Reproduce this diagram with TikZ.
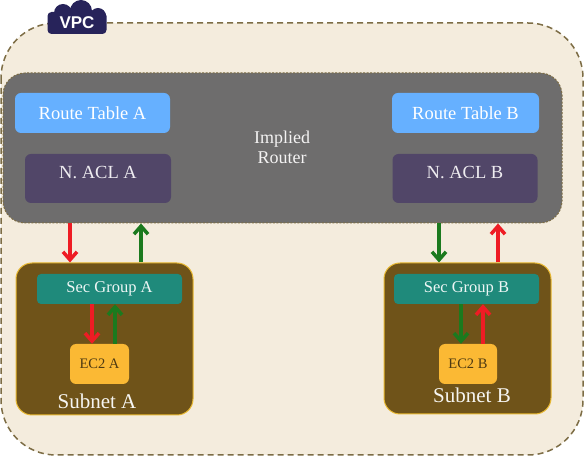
\documentclass[tikz,border=0pt]{standalone}
\usepackage{fontspec}
\setmainfont{Liberation Serif}
\setsansfont{Liberation Sans}
\usetikzlibrary{arrows.meta}
\definecolor{vpcfill}{HTML}{F4ECDD}
\definecolor{vpcline}{HTML}{7D6D45}
\definecolor{tagnavy}{HTML}{27235A}
\definecolor{routergray}{HTML}{6E6D6D}
\definecolor{rtblue}{HTML}{66B0FF}
\definecolor{aclpurple}{HTML}{514668}
\definecolor{subbrown}{HTML}{6F5319}
\definecolor{subline}{HTML}{E8B830}
\definecolor{secteal}{HTML}{1F8A7B}
\definecolor{ecorange}{HTML}{FBB934}
\definecolor{flowred}{HTML}{EE1C24}
\definecolor{flowgreen}{HTML}{1B7A1E}
\begin{document}
\begin{tikzpicture}[x=1pt, y=-1pt,
    box/.style={rounded corners=6pt, inner sep=0pt, align=center},
    routebox/.style={box, fill=rtblue, text=white, minimum width=155pt, minimum height=40pt, font=\fontsize{18.5}{20}\selectfont},
    aclbox/.style={box, fill=aclpurple, text=white!90!aclpurple, minimum width=146pt, minimum height=49pt,
      text height=12pt, text depth=11.4pt, font=\fontsize{18.5}{20}\selectfont},
    subnetbox/.style={rounded corners=16pt, fill=subbrown, draw=subline, line width=1pt, inner sep=0pt},
    secbox/.style={box, rounded corners=4pt, fill=secteal, text=white!92!secteal, minimum width=145pt, minimum height=30pt, font=\fontsize{16.5}{18}\selectfont},
    ecbox/.style={box, fill=ecorange, text=subbrown!70!black, minimum width=59pt, minimum height=40pt, font=\fontsize{14.5}{16}\selectfont},
    flow/.style={line width=3.5pt, -{Straight Barb[length=8pt, width=14pt]}}
  ]
  \useasboundingbox (0,0) rectangle (587,462);
  % VPC area
  \draw [fill=vpcfill, draw=vpcline, line width=1.5pt, dash pattern=on 6pt off 4pt, rounded corners=55pt]
    (1,23) rectangle (583,455);
  \fill [tagnavy] (63,13) circle [radius=9] (81,11) circle [radius=11] (98,16) circle [radius=8];
  \node (vpc) at (77,23) [fill=tagnavy, rounded corners=4pt, minimum width=59pt, minimum height=22pt, inner sep=0pt,
    text=white, font=\sffamily\bfseries\fontsize{17}{19}\selectfont] {VPC};
  % router
  \node (router) at (282.5,148) [draw=vpcline, line width=1pt, dash pattern=on 2pt off 1.5pt, fill=routergray,
    rounded corners=22pt, minimum width=559pt, minimum height=150pt] {};
  \node (implied) at (282,147) [text=white!92!routergray, align=center, font=\fontsize{18}{20}\selectfont] {Implied\\Router};
  \node (rtA) at (92.5,113) [routebox] {Route Table A};
  \node (aclA) at (98,178.5) [aclbox] {N. ACL A};
  \node (rtB) at (465.5,113) [routebox, minimum width=147pt] {Route Table B};
  \node (aclB) at (465,178.5) [aclbox, minimum width=145pt] {N. ACL B};
  % subnets
  \node (subA) at (104.5,339) [subnetbox, minimum width=177pt, minimum height=152pt] {};
  \node (subB) at (467.5,338.5) [subnetbox, minimum width=167pt, minimum height=151pt] {};
  \node (secA) at (109.5,289) [secbox] {Sec Group A};
  \node (secB) at (466.5,289) [secbox] {Sec Group B};
  \node (ecA) at (99.5,364) [ecbox] {EC2 A};
  \node (ecB) at (468,364) [ecbox, minimum width=58pt] {EC2 B};
  \node (lblA) at (97,401) [text=white!94!subbrown, font=\fontsize{21}{23}\selectfont] {Subnet A};
  \node (lblB) at (472,395) [text=white!94!subbrown, font=\fontsize{21}{23}\selectfont] {Subnet B};
  % traffic
  \coordinate (a1) at (70,0);
  \coordinate (a2) at (141,0);
  \coordinate (a3) at (92,0);
  \coordinate (a4) at (115,0);
  \coordinate (b1) at (439,0);
  \coordinate (b2) at (498,0);
  \coordinate (b3) at (461,0);
  \coordinate (b4) at (483,0);
  \draw [flow, flowred] (router.south -| a1) -- (subA.north -| a1);
  \draw [flow, flowgreen] (subA.north -| a2) -- (router.south -| a2);
  \draw [flow, flowred] (secA.south -| a3) -- (ecA.north -| a3);
  \draw [flow, flowgreen] (ecA.north -| a4) -- (secA.south -| a4);
  \draw [flow, flowgreen] (router.south -| b1) -- (subB.north -| b1);
  \draw [flow, flowred] (subB.north -| b2) -- (router.south -| b2);
  \draw [flow, flowgreen] (secB.south -| b3) -- (ecB.north -| b3);
  \draw [flow, flowred] (ecB.north -| b4) -- (secB.south -| b4);
\end{tikzpicture}
\end{document}
